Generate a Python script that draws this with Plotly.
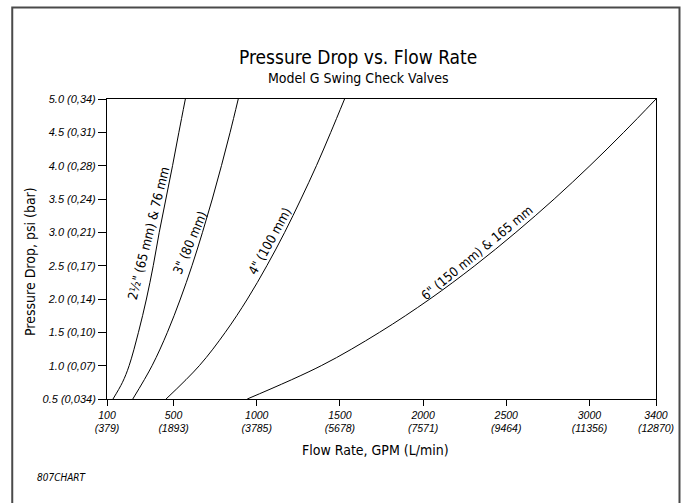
import plotly.graph_objects as go

# ---- data (psi vs GPM) ----
psi_2half = [0.5, 0.75, 1.0, 1.5, 2.0, 2.5, 3.0, 3.5, 4.0, 4.5, 5.0]
gpm_2half = [136, 193, 233, 289, 337, 378, 414, 454, 494, 532, 571]
psi_levels = [0.5, 1.0, 1.5, 2.0, 2.5, 3.0, 3.5, 4.0, 4.5, 5.0]
gpm_3in = [255, 371, 463, 541, 611, 674, 733, 788, 840, 889]
gpm_4in = [455, 655, 811, 944, 1061, 1168, 1266, 1359, 1445, 1528]
gpm_6in = [943, 1388, 1738, 2041, 2311, 2558, 2788, 3003, 3206, 3400]

curve_names = ['2½" (65 mm) & 76 mm', '3" (80 mm)', '4" (100 mm)', '6" (150 mm) & 165 mm']

x_tickvals = [100, 500, 1000, 1500, 2000, 2500, 3000, 3400]
x_ticktext = ["100<br>(379)", "500<br>(1893)", "1000<br>(3785)", "1500<br>(5678)",
              "2000<br>(7571)", "2500<br>(9464)", "3000<br>(11356)", "3400<br>(12870)"]
y_tickvals = [0.5, 1.0, 1.5, 2.0, 2.5, 3.0, 3.5, 4.0, 4.5, 5.0]
y_ticktext = ["0.5 (0,034)", "1.0 (0,07)", "1.5 (0,10)", "2.0 (0,14)", "2.5 (0,17)",
              "3.0 (0,21)", "3.5 (0,24)", "4.0 (0,28)", "4.5 (0,31)", "5.0 (0,34)"]

CAD = "Liberation Sans Narrow, DejaVu Sans Condensed, Arial Narrow, sans-serif"
ITAL = "Liberation Sans, Arial, sans-serif"

fig = go.Figure()
series = [(gpm_2half, psi_2half), (gpm_3in, psi_levels), (gpm_4in, psi_levels), (gpm_6in, psi_levels)]
for name, (gpm, psi) in zip(curve_names, series):
    fig.add_trace(go.Scatter(x=gpm, y=psi, mode="lines", name=name,
                             line=dict(color="black", width=1, shape="spline", smoothing=1.0),
                             showlegend=False, hoverinfo="skip"))

# curve labels (rotated, sitting just above/left of each curve)
label_pos = [(351, 2.98, -76), (598, 2.85, -67), (1078, 2.86, -61), (2326, 2.70, -39.6)]
for name, (lx, ly, ang) in zip(curve_names, label_pos):
    fig.add_annotation(x=lx, y=ly, xref="x", yref="y", text=name, showarrow=False,
                       xanchor="center", yanchor="middle",
                       textangle=ang, font=dict(family=CAD, size=13, color="black"))

fig.update_xaxes(range=[100, 3400], tickvals=x_tickvals, ticktext=x_ticktext,
                 showgrid=False, zeroline=False, showline=True, mirror=True,
                 linecolor="black", linewidth=1, ticks="outside", ticklen=6,
                 tickcolor="black", tickwidth=1,
                 tickfont=dict(family=ITAL, size=10.5, color="black", style="italic"))
fig.update_yaxes(range=[0.5, 5.0], tickvals=y_tickvals, ticktext=y_ticktext,
                 showgrid=False, zeroline=False, showline=True, mirror=True,
                 linecolor="black", linewidth=1, ticks="outside", ticklen=8,
                 tickcolor="black", tickwidth=1,
                 tickfont=dict(family=ITAL, size=11, color="black", style="italic"))

# titles
def note(x, y, text, size, angle=0, xanchor="center", style="normal"):
    fig.add_annotation(x=x, y=y, xref="paper", yref="paper", text=text, showarrow=False,
                       xanchor=xanchor, yanchor="middle", textangle=angle,
                       font=dict(family=CAD, size=size, color="black", style=style))

note(0.4578, 1.1399, "Pressure Drop vs. Flow Rate", 19)
note(0.4578, 1.070, "Model G Swing Check Valves", 14)
note(0.4886, -0.169, "Flow Rate, GPM (L/min)", 14)
note(-0.140, 0.457, "Pressure Drop, psi (bar)", 14, angle=-90)
note(-0.131, -0.262, "807CHART", 10, xanchor="left", style="italic")

# page border
fig.add_shape(type="rect", xref="paper", yref="paper", x0=-0.1726, x1=1.0428, y0=-0.40, y1=1.3054,
              line=dict(color="#4a4a4a", width=2), fillcolor="rgba(0,0,0,0)", layer="below")

fig.update_layout(width=686, height=503, autosize=False,
                  margin=dict(l=107, r=27, t=99, b=104),
                  plot_bgcolor="white", paper_bgcolor="white")

fig.write_html("out.html", config={"displayModeBar": False},
               post_script="document.body.style.margin='0';")
